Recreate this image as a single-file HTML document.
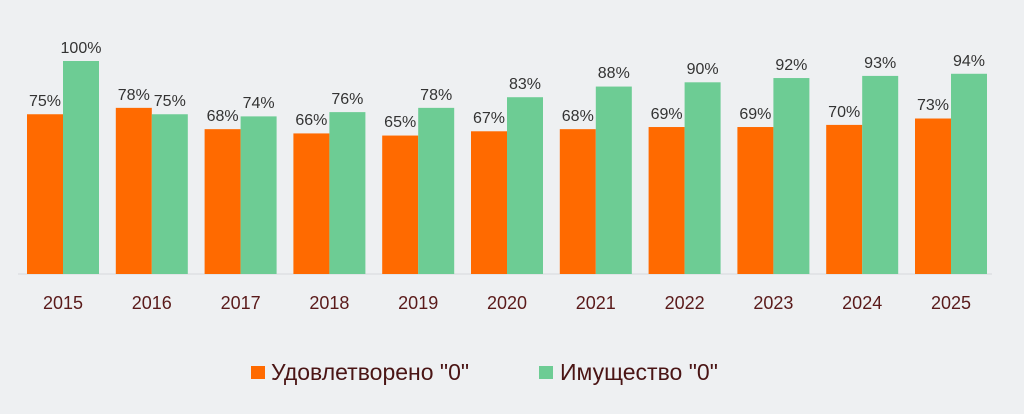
<!DOCTYPE html>
<html><head><meta charset="utf-8"><style>
body{margin:0;background:#eef0f2;}
svg{display:block;font-family:"Liberation Sans","DejaVu Sans",sans-serif;}
</style></head><body>
<svg width="1024" height="414" xmlns="http://www.w3.org/2000/svg">
<rect width="1024" height="414" fill="#eef0f2"/>
<line x1="18" y1="274" x2="992" y2="274" stroke="#d6d9dc" stroke-width="1"/>
<g fill="#ff6a00">
<rect x="27" y="114.25" width="36" height="159.75"/>
<rect x="115.8" y="107.86" width="36" height="166.14"/>
<rect x="204.6" y="129.16" width="36" height="144.84"/>
<rect x="293.4" y="133.42" width="36" height="140.58"/>
<rect x="382.2" y="135.55" width="36" height="138.45"/>
<rect x="471" y="131.29" width="36" height="142.71"/>
<rect x="559.8" y="129.16" width="36" height="144.84"/>
<rect x="648.6" y="127.03" width="36" height="146.97"/>
<rect x="737.4" y="127.03" width="36" height="146.97"/>
<rect x="826.2" y="124.9" width="36" height="149.1"/>
<rect x="915" y="118.51" width="36" height="155.49"/>
</g>
<g fill="#6dcc94">
<rect x="63" y="61" width="36" height="213"/>
<rect x="151.8" y="114.25" width="36" height="159.75"/>
<rect x="240.6" y="116.38" width="36" height="157.62"/>
<rect x="329.4" y="112.12" width="36" height="161.88"/>
<rect x="418.2" y="107.86" width="36" height="166.14"/>
<rect x="507" y="97.21" width="36" height="176.79"/>
<rect x="595.8" y="86.56" width="36" height="187.44"/>
<rect x="684.6" y="82.3" width="36" height="191.7"/>
<rect x="773.4" y="78.04" width="36" height="195.96"/>
<rect x="862.2" y="75.91" width="36" height="198.09"/>
<rect x="951" y="73.78" width="36" height="200.22"/>
</g>
<g font-size="16" text-anchor="middle" fill="#333">
<text x="45" y="106">75%</text><text x="81" y="53">100%</text>
<text x="133.8" y="100">78%</text><text x="169.8" y="106">75%</text>
<text x="222.6" y="121">68%</text><text x="258.6" y="108">74%</text>
<text x="311.4" y="125">66%</text><text x="347.4" y="104">76%</text>
<text x="400.2" y="127">65%</text><text x="436.2" y="100">78%</text>
<text x="489" y="123">67%</text><text x="525" y="89">83%</text>
<text x="577.8" y="121">68%</text><text x="613.8" y="78">88%</text>
<text x="666.6" y="119">69%</text><text x="702.6" y="74">90%</text>
<text x="755.4" y="119">69%</text><text x="791.4" y="70">92%</text>
<text x="844.2" y="117">70%</text><text x="880.2" y="68">93%</text>
<text x="933" y="110">73%</text><text x="969" y="66">94%</text>
</g>
<g font-size="18" text-anchor="middle" fill="#5a1a1a">
<text x="63" y="309">2015</text><text x="151.8" y="309">2016</text><text x="240.6" y="309">2017</text>
<text x="329.4" y="309">2018</text><text x="418.2" y="309">2019</text><text x="507" y="309">2020</text>
<text x="595.8" y="309">2021</text><text x="684.6" y="309">2022</text><text x="773.4" y="309">2023</text>
<text x="862.2" y="309">2024</text><text x="951" y="309">2025</text>
</g>
<rect x="251" y="366" width="14" height="13" fill="#ff6a00"/>
<text x="271" y="380" font-size="23" fill="#4a1515">Удовлетворено "0"</text>
<rect x="539" y="366" width="14" height="13" fill="#6dcc94"/>
<text x="560" y="380" font-size="23" fill="#4a1515">Имущество "0"</text>
</svg>
</body></html>
